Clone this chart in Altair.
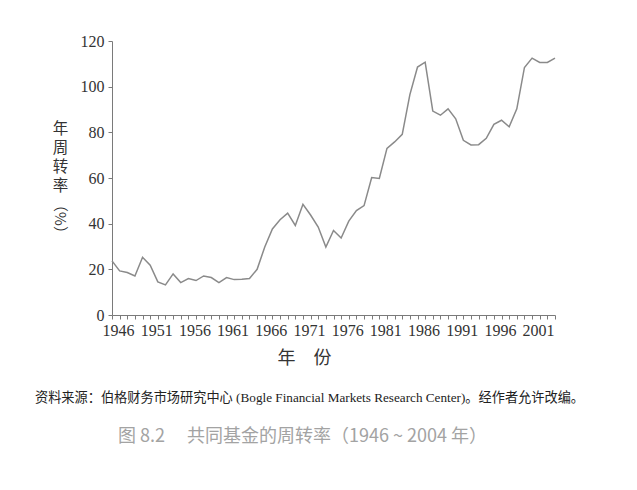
import altair as alt
import pandas as pd

years = list(range(1946, 2005))
turnover = [23.7, 19.3, 18.6, 17.1, 25.3, 21.8, 14.5, 13.2, 18.0, 14.2,
            16.0, 15.1, 17.1, 16.4, 14.2, 16.4, 15.5, 15.7, 16.0, 20.0,
            29.8, 37.7, 41.7, 44.6, 39.2, 48.5, 43.8, 38.5, 29.8, 37.0,
            33.7, 41.1, 45.7, 47.9, 60.2, 59.8, 73.0, 75.8, 79.1, 96.5,
            108.6, 110.7, 89.3, 87.5, 90.3, 85.9, 76.5, 74.5, 74.6, 77.4,
            83.5, 85.3, 82.4, 90.3, 108.4, 112.5, 110.6, 110.6, 112.5]
y_ticks = [0, 20, 40, 60, 80, 100, 120]
x_label_years = [1946, 1951, 1956, 1961, 1966, 1971, 1976, 1981, 1986, 1991, 1996, 2001]

y_title_lines = ["年", "周", "转", "率"]
y_title_unit = "（%）"
x_title = "年　份"
source_note = "资料来源：伯格财务市场研究中心 (Bogle Financial Markets Research Center)。经作者允许改编。"
caption = "图 8.2　 共同基金的周转率（1946 ~ 2004 年）"

df = pd.DataFrame({"year": years, "turnover": turnover})

SERIF = "Liberation Serif, Noto Sans CJK SC"
CJK = "Noto Sans CJK SC"
AX = "#7a7a7a"

label_expr = "indexof([" + ",".join(str(v) for v in x_label_years) + "], datum.value) >= 0 ? datum.label : ''"

line = alt.Chart(df).mark_line(color="#8a8a8a", strokeWidth=1.5).encode(
    x=alt.X("year:Q",
            scale=alt.Scale(domain=[1946, 2004], nice=False, zero=False),
            axis=alt.Axis(values=years, format="d", labelExpr=label_expr,
                          labelOverlap=False, labelFlush=False, labelBound=False,
                          labelOffset=6, labelPadding=3,
                          labelFont=SERIF, labelFontSize=16, labelColor="#333333",
                          tickSize=4, tickColor=AX, domainColor=AX, grid=False,
                          title=x_title, titleFont=CJK, titleFontSize=18,
                          titleFontWeight="normal", titleColor="#333333",
                          titleX=192, titleY=43, titleBaseline="middle",
                          titleAnchor="start", titleAlign="center")),
    y=alt.Y("turnover:Q",
            scale=alt.Scale(domain=[0, 120], nice=False),
            axis=alt.Axis(values=y_ticks, labelFont=SERIF, labelFontSize=16,
                          labelColor="#333333", labelPadding=4,
                          tickSize=4, tickColor=AX, domainColor=AX, grid=False,
                          title=y_title_lines, titleAngle=0, titleFont=CJK,
                          titleFontSize=15.5, titleFontWeight="normal",
                          titleColor="#333333", titleLineHeight=19,
                          titleX=-52, titleY=80, titleBaseline="top",
                          titleAlign="center", titleAnchor="start")),
)

one = pd.DataFrame({"k": [0]})

unit = alt.Chart(one).mark_text(text=y_title_unit, font=CJK, fontSize=15,
                                 angle=90, color="#333333",
                                 align="center", baseline="middle").encode(
    x=alt.value(-52), y=alt.value(178))

note = alt.Chart(one).mark_text(text=source_note, font=SERIF, fontSize=13.2,
                                 color="#222222", align="left",
                                 baseline="middle").encode(
    x=alt.value(-77), y=alt.value(357))

cap = alt.Chart(one).mark_text(text=caption, font=CJK, fontSize=18,
                                color="#a3a3a3", align="left",
                                baseline="middle").encode(
    x=alt.value(6), y=alt.value(396))

chart = alt.layer(line, unit, note, cap).properties(
    width=443, height=274,
    padding={"left": 104, "top": 33, "right": 70, "bottom": 160},
    autosize=alt.AutoSizeParams(type="none"),
    background="white",
).configure_view(stroke=None)

chart.save("out.html", embed_options={"renderer": "svg", "actions": False})
